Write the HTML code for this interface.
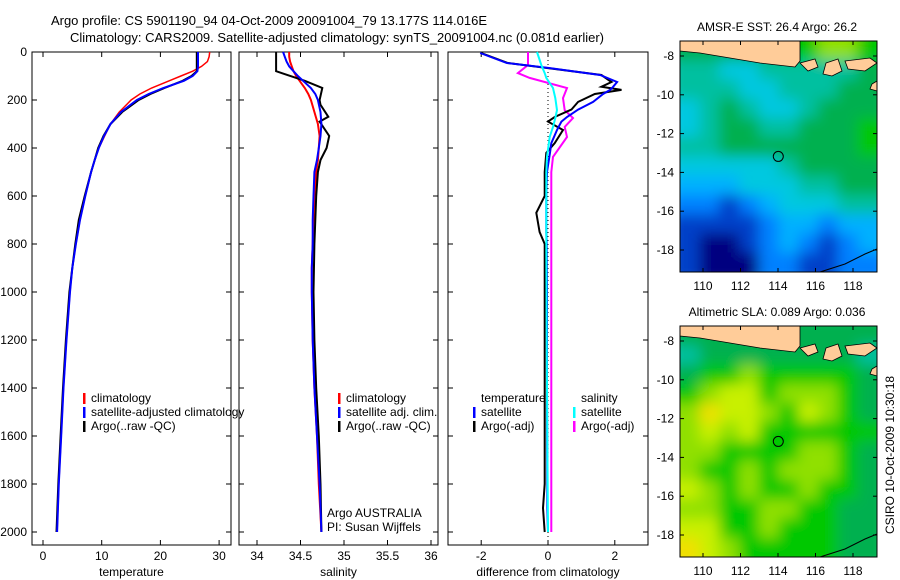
<!DOCTYPE html>
<html><head><meta charset="utf-8">
<style>
html,body{margin:0;padding:0;background:#fff;}
svg{display:block;font-family:"Liberation Sans",sans-serif;}
text{font-size:12px;fill:#000;}
</style></head>
<body>
<svg id="fig" width="900" height="580" viewBox="0 0 900 580">
<defs>
<filter id="blur" x="-5%" y="-5%" width="110%" height="110%"><feGaussianBlur stdDeviation="7"/></filter>
<clipPath id="clip1"><rect x="680" y="41" width="197" height="231"/></clipPath>
<clipPath id="clip2"><rect x="680" y="326" width="197" height="231"/></clipPath>
</defs>
<text x="269" y="25" text-anchor="middle" style="font-size:13px">Argo profile: CS 5901190_94 04-Oct-2009 20091004_79 13.177S 114.016E</text>
<text x="337" y="42" text-anchor="middle" style="font-size:13px">Climatology: CARS2009. Satellite-adjusted climatology: synTS_20091004.nc (0.081d earlier)</text>
<text x="777" y="31" text-anchor="middle">AMSR-E SST: 26.4  Argo: 26.2</text>
<text x="777" y="316" text-anchor="middle">Altimetric SLA: 0.089  Argo: 0.036</text>
<text transform="translate(894,455) rotate(-90)" text-anchor="middle">CSIRO 10-Oct-2009 10:30:18</text>
</svg>
<script>
// ---- data ----
const depths = [0,20,40,60,80,100,120,150,175,200,250,300,350,400,450,500,600,700,800,900,1000,1200,1400,1600,1800,2000];
const tempClim = [28.4,28.3,28.0,27.0,25.5,23.5,21.5,18.5,16.5,15.0,13.0,11.5,10.5,9.5,8.8,8.2,7.2,6.3,5.6,5.0,4.6,4.0,3.5,3.1,2.7,2.4];
const tempSat  = [26.4,26.4,26.4,26.4,26.3,25.5,24.0,20.5,18.0,16.0,13.3,11.5,10.4,9.5,8.8,8.2,7.2,6.3,5.6,5.0,4.6,4.0,3.5,3.1,2.7,2.4];
const tempArgo = [26.2,26.2,26.2,26.2,26.2,25.3,23.8,20.7,18.3,16.3,13.5,11.5,10.3,9.4,8.8,8.2,7.1,6.1,5.5,5.0,4.5,3.9,3.4,3.0,2.6,2.3];
const salClim = [34.37,34.37,34.38,34.40,34.42,34.45,34.49,34.55,34.59,34.62,34.66,34.70,34.72,34.71,34.70,34.68,34.66,34.65,34.64,34.63,34.63,34.64,34.66,34.69,34.71,34.74];
const salSat  = [34.30,34.32,34.34,34.37,34.42,34.47,34.53,34.62,34.67,34.70,34.73,34.74,34.73,34.71,34.69,34.66,34.65,34.64,34.64,34.63,34.63,34.64,34.66,34.69,34.72,34.74];
const salArgoDepth = [0,40,80,90,120,150,200,220,270,290,350,400,450,500,600,800,1000,1200,1400,1600,1800,2000];
const salArgo = [34.22,34.22,34.22,34.3,34.55,34.75,34.72,34.73,34.82,34.72,34.83,34.80,34.73,34.70,34.68,34.66,34.65,34.66,34.68,34.71,34.73,34.74];
const diffDepthT = [4,46,67,96,125,145,158,175,208,240,271,290,325,380,420,500,600,670,750,800,1000,1400,1800,1900,2000];
const diffTSat  = [-2.03,-1.23,0.06,1.56,2.07,1.95,1.86,1.65,1.35,0.9,0.57,0.4,0.27,0.1,0.06,-0.03,-0.05,-0.05,-0.05,-0.04,-0.03,-0.03,-0.02,-0.02,0.0];
const diffTArgo = [-2.0,-1.2,0.0,1.6,1.9,1.6,2.2,1.4,0.9,0.7,0.2,0.0,0.45,0.2,-0.05,-0.1,-0.1,-0.35,-0.25,-0.1,-0.1,-0.1,-0.1,-0.15,-0.1];
const diffDepthS = [0,54,88,108,150,192,242,275,312,354,437,500,800,1200,1600,2000];
const diffSSat  = [-0.33,-0.2,-0.1,-0.05,0.15,0.22,0.27,0.22,0.15,0.05,-0.03,-0.05,-0.05,-0.04,-0.02,0.0];
const diffSArgo = [-0.6,-0.6,-0.9,-0.55,0.57,0.45,0.5,0.75,0.5,0.57,0.15,0.1,0.1,0.1,0.1,0.1];
const sstGrid = [
 [6,6,6,6,6,7,7,8,8,7],[5,5,4,4,5,5,5,5,5,6],[5,5,5,4,4,5,5,5,6,6],[4,5,6,5,4,4,5,6,6,6],
 [4,5,6,6,5,5,6,6,6,7],[5,5,6,6,6,6,6,6,6,7],[4,4,4,4,4,5,6,6,6,6],[3,3,3,4,4,4,5,5,6,6],
 [2,2,1,2,3,4,4,4,5,5],[1,1,1,1,2,3,3,2,3,3],[1,0,0,1,2,3,2,1,2,3],[1,0,0,0,2,2,1,1,2,2]];
const slaGrid = [
 [6,6,6,6,6,6,6,6,6,6],[5,6,6,6,6,6,6,6,6,5],[6,7,7,8,7,7,7,7,7,6],[7,8,9,9,7,8,8,8,7,6],
 [8,10,9,9,8,7,9,8,7,6],[8,9,8,9,7,7,7,7,7,7],[8,8,7,7,7,7,8,8,7,6],[8,7,7,8,7,8,8,8,7,6],
 [9,8,7,8,7,7,8,7,7,6],[8,8,7,7,8,8,7,7,6,6],[9,9,7,7,8,7,7,7,6,6],[10,9,8,7,7,7,7,7,6,6]];
const palette = ['#000080','#0040c8','#0080ff','#00b0ff','#00c8e0','#00c0a0','#00b050','#00c800','#90e000','#c8f000','#f0e000'];
const depthTicks = [0,200,400,600,800,1000,1200,1400,1600,1800,2000];
const tempTicks = [0,10,20,30];
const salTicks = [34,34.5,35,35.5,36];
const diffTicks = [-2,0,2];
const lonTicks = [110,112,114,116,118];
const latTicks = [-8,-10,-12,-14,-16,-18];

const svg = document.getElementById('fig');
const NS='http://www.w3.org/2000/svg';
function mk(tag, attrs, parent){const e=document.createElementNS(NS,tag);for(const k in attrs)e.setAttribute(k,attrs[k]);(parent||svg).appendChild(e);return e;}
const yD = d => 52 + 0.24*d;
const PT=52, PB=545;

function panel(name,x0,x1,xs,xticks,xlabel){
  const g=mk('g',{});
  
  
  const r=mk('rect',{x:x0,y:PT,width:x1-x0,height:PB-PT,fill:'none',stroke:'#000','stroke-width':1},g);
  
  
  depthTicks.forEach(d=>{
    mk('line',{x1:x0,x2:x0+5,y1:yD(d),y2:yD(d),stroke:'#000'},g);
    mk('line',{x1:x1-5,x2:x1,y1:yD(d),y2:yD(d),stroke:'#000'},g);
  });
  xticks.forEach(v=>{
    const x=xs(v);
    mk('line',{x1:x,x2:x,y1:PB,y2:PB-5,stroke:'#000'},g);
    mk('line',{x1:x,x2:x,y1:PT,y2:PT+5,stroke:'#000'},g);
    const t=mk('text',{x:x,y:560,'text-anchor':'middle'},g);t.textContent=String(v);
    
    
  });
  const xl=mk('text',{x:(x0+x1)/2,y:576,'text-anchor':'middle'},g);xl.textContent=xlabel;
  
  
  return g;
}
function line(g,xs,vals,ds,color,w,name){
  const pts=vals.map((v,i)=>xs(v).toFixed(1)+','+yD(ds[i]).toFixed(1)).join(' ');
  const p=mk('polyline',{points:pts,fill:'none',stroke:color,'stroke-width':w},g);
  
  
}
function legend(g,x,y,items){
  items.forEach((it,i)=>{
    mk('rect',{x:x,y:y+i*14-9,width:2.5,height:11,fill:it[0]},g);
    const t=mk('text',{x:x+8,y:y+i*14},g);t.textContent=it[1];
    
    
  });
}
depthTicks.forEach(d=>{const t=mk('text',{x:27,y:yD(d)+4,'text-anchor':'end'});t.textContent=d;
  
  });

const xT=v=>43+5.87*v;
const g1=panel('temperature-panel',32,231,xT,tempTicks,'temperature');
line(g1,xT,tempClim,depths,'#f00',1.5,'temp-climatology-line');
line(g1,xT,tempArgo,depths,'#000',2,'temp-argo-line');
line(g1,xT,tempSat,depths,'#00f',2,'temp-satellite-line');
legend(g1,83,402,[['#f00','climatology'],['#00f','satellite-adjusted climatology'],['#000','Argo(..raw -QC)']]);

const xS=v=>257+87*(v-34);
const g2=panel('salinity-panel',239,438,xS,salTicks,'salinity');
line(g2,xS,salClim,depths,'#f00',2,'sal-climatology-line');
line(g2,xS,salArgo,salArgoDepth,'#000',2,'sal-argo-line');
line(g2,xS,salSat,depths,'#00f',2,'sal-satellite-line');
legend(g2,338,402,[['#f00','climatology'],['#00f','satellite adj. clim.'],['#000','Argo(..raw -QC)']]);
const a1=mk('text',{x:327,y:517},g2);a1.textContent='Argo AUSTRALIA';


const a2=mk('text',{x:327,y:531},g2);a2.textContent='PI: Susan Wijffels';



const xDf=v=>548+33.4*v;
const g3=panel('difference-panel',448,648,xDf,diffTicks,'difference from climatology');
mk('line',{x1:xDf(0),x2:xDf(0),y1:PT,y2:PB,stroke:'#000','stroke-dasharray':'1,3'},g3);
line(g3,xDf,diffSArgo,diffDepthS,'#f0f',2,'sal-argo-diff-line');
line(g3,xDf,diffTArgo,diffDepthT,'#000',2,'temp-argo-diff-line');
line(g3,xDf,diffTSat,diffDepthT,'#00f',2,'temp-satellite-diff-line');
line(g3,xDf,diffSSat,diffDepthS,'#0ff',2,'sal-satellite-diff-line');
const th=mk('text',{x:481,y:402},g3);th.textContent='temperature';


const sh=mk('text',{x:581,y:402},g3);sh.textContent='salinity';


legend(g3,473,416,[['#00f','satellite'],['#000','Argo(-adj)']]);
legend(g3,573,416,[['#0ff','satellite'],['#f0f','Argo(-adj)']]);

function map(name,top,grid,clip){
  const L=680,R=877,H=231,B=top+H;
  const lonX=v=>703+18.75*(v-110);
  const latY=v=>top+15+19.4*(-8-v);
  const g=mk('g',{});
  
  
  const cg=mk('g',{'clip-path':'url(#'+clip+')'},g);
  const fg=mk('g',{filter:'url(#blur)'},cg);
  const rows=grid.length, cols=grid[0].length, cw=(R-L)/cols, ch=H/rows;
  grid.forEach((row,i)=>row.forEach((v,j)=>{
    const ex=(j===0?-12:0), ey=(i===0?-12:0), ew=(j===cols-1?12:0)-ex, eh=(i===rows-1?12:0)-ey;
    const c=mk('rect',{x:L+j*cw+ex,y:top+i*ch+ey,width:cw+0.6+ew,height:ch+0.6+eh,fill:palette[v]},fg);
    
    
  }));
  const land=mk('path',{d:`M${L},${top} L${L},${top+10} L700,${top+12} L730,${top+17} L760,${top+22} L795,${top+26} L800,${top+20} L800,${top} Z M800,${top+22} L815,${top+18} L818,${top+26} L808,${top+30} Z M826,${top+22} L838,${top+18} L842,${top+30} L832,${top+35} L823,${top+33} Z M845,${top+20} L870,${top+17} L877,${top+22} L865,${top+30} L848,${top+28} Z M872,${top+43} L877,${top+40} L877,${top+50} L870,${top+48} Z`,fill:'#ffcc99',stroke:'#000','stroke-width':0.8},g);
  
  
  mk('polyline',{points:`820,${B} 845,${B-8} 865,${B-18} 877,${B-23}`,fill:'none',stroke:'#000','stroke-width':1},g);
  mk('rect',{x:L,y:top,width:R-L,height:H,fill:'none',stroke:'#000'},g);
  lonTicks.forEach(v=>{const x=lonX(v);
    mk('line',{x1:x,x2:x,y1:B,y2:B-4,stroke:'#000'},g);mk('line',{x1:x,x2:x,y1:top,y2:top+4,stroke:'#000'},g);
    const t=mk('text',{x:x,y:B+18,'text-anchor':'middle'},g);t.textContent=v;
    
    });
  latTicks.forEach(v=>{const y=latY(v);
    mk('line',{x1:L,x2:L+4,y1:y,y2:y,stroke:'#000'},g);mk('line',{x1:R-4,x2:R,y1:y,y2:y,stroke:'#000'},g);
    const t=mk('text',{x:L-6,y:y+4,'text-anchor':'end'},g);t.textContent=v;
    
    });
  const c=mk('circle',{cx:lonX(114.016),cy:latY(-13.177),r:5,fill:'none',stroke:'#000'},g);
  
  
}
map('sst-map',41,sstGrid,'clip1');
map('sla-map',326,slaGrid,'clip2');
</script>
</body></html>
